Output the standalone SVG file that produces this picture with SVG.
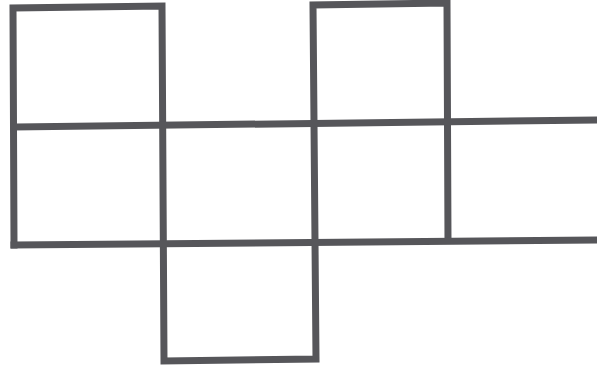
<svg xmlns="http://www.w3.org/2000/svg" width="597" height="369" viewBox="0 0 597 369">
<style>
.l{fill:none;stroke:#56565a;stroke-width:7;stroke-linecap:square;stroke-linejoin:miter}
</style>
<rect width="597" height="369" fill="#ffffff"/>
<g id="net">
<path class="l" d="M14,245 L13,8 L162,6 L164,361 L316,359 L313,5 L447,3 L448,240"/>
<path class="l" d="M16,127 L600,120"/>
<path class="l" d="M14,245 L600,240"/>
</g>
</svg>
